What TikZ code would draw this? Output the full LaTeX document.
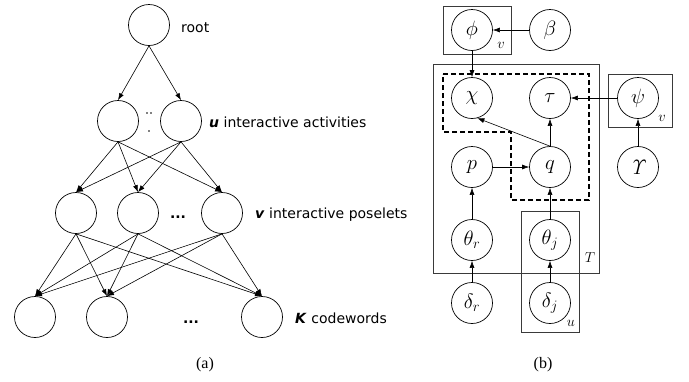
\documentclass[tikz,border=0pt]{standalone}
\usepackage{amsmath}
\usepackage[no-math]{fontspec}
\setmainfont{Liberation Serif}
\newfontfamily\labfont{DejaVu Sans}
\usetikzlibrary{arrows.meta, positioning}
\definecolor{inkOne}{HTML}{000000}
\definecolor{inkTwo}{HTML}{3A3A3A}
\tikzset{
  var/.style={circle, draw=inkOne, line width=0.7pt, minimum size=41pt, inner sep=0pt,
    font=\fontsize{20}{24}\selectfont},
  arr/.style={-{Latex[length=7pt, width=5pt]}, draw=inkOne, line width=0.6pt},
  plate/.style={draw=inkTwo, line width=0.7pt},
  lbl/.style={font=\labfont\fontsize{14}{16}\selectfont, inner sep=0pt, anchor=base west},
  note/.style={font=\fontsize{15}{17}\selectfont, inner sep=0pt},
  capt/.style={font=\fontsize{16}{18}\selectfont, inner sep=0pt, anchor=base},
}

\begin{document}
\begin{tikzpicture}[x=1pt, y=-1pt]
  \useasboundingbox (0,0) rectangle (689,381);
  % ---- (a) root -> activities -> poselets -> codewords
  \node[var] (root) at (149,25) {};
  \node[var] (ua) at (118,121) {};
  \node[var] (ub) at (181,121) {};
  \node[var] (va) at (76,213) {};
  \node[var] (vb) at (138,213) {};
  \node[var] (vc) at (222,213) {};
  \node[var] (ka) at (35,317) {};
  \node[var] (kb) at (107,317) {};
  \node[var] (kc) at (262,317) {};
  \foreach \t in {ua,ub} \draw[arr] (root.south) -- (\t.north);
  \foreach \s in {ua,ub} \foreach \t in {va,vb,vc} \draw[arr] (\s.south) -- (\t.north);
  \foreach \s in {va,vb,vc} \foreach \t in {ka,kb,kc} \draw[arr] (\s.south) -- (\t.north);
  \fill[inkOne] (147,113) circle (0.9) (151,113) circle (0.9) (149,131) circle (0.9);
  \node[lbl, anchor=base] (vdots) at (178,218) {\textbf{...}};
  \node[lbl, anchor=base] (kdots) at (191,323) {\textbf{...}};
  \node[lbl] (rootlab) at (181,32) {root};
  \node[lbl] (ulab) at (209,127) {\textbf{\textit{u}} interactive activities};
  \node[lbl] (vlab) at (255,218) {\textbf{\textit{v}} interactive poselets};
  \node[lbl] (klab) at (295,323) {\textbf{\textit{K}} codewords};
  \node[capt] (capa) at (205,368) {(a)};
  % ---- (b) plate model
  \node[var] (phi) at (472,30) {$\phi$};
  \node[var] (beta) at (550,30) {$\beta$};
  \node[var] (chi) at (472,98) {$\chi$};
  \node[var] (tau) at (550,98) {$\tau$};
  \node[var] (psi) at (638,98) {$\psi$};
  \node[var] (p) at (472,167) {$p$};
  \node[var] (q) at (550,167) {$q$};
  \node[var] (ups) at (638,167) {$\mathit{\Upsilon}$};
  \node[var] (thr) at (472,240) {$\theta_r$};
  \node[var] (thj) at (550,240) {$\theta_j$};
  \node[var] (der) at (472,303) {$\delta_r$};
  \node[var] (dej) at (550,303) {$\delta_j$};
  \draw[plate] (443,6) rectangle (511,54);
  \draw[plate] (433,64) rectangle (599,273);
  \draw[plate] (608,74) rectangle (672,127);
  \draw[plate] (521,211) rectangle (579,332);
  \node[note] (vphi) at (501,45) {$v$};
  \node[note] (vpsi) at (662,118) {$v$};
  \node[note] (tlab) at (590,258) {$T$};
  \node[note] (ulab2) at (571,323) {$u$};
  \draw[inkOne, line width=1.3pt, dash pattern=on 5pt off 3pt]
    (443,74) -- (589,74) -- (589,200) -- (511,200) -- (511,132) -- (443,132) -- cycle;
  \draw[arr] (beta) -- (phi);
  \draw[arr] (phi) -- (chi);
  \draw[arr] (psi) -- (tau);
  \draw[arr] (ups) -- (psi);
  \draw[arr] (q.north) -- (chi.-75);
  \draw[arr] (q) -- (tau);
  \draw[arr] (p) -- (q);
  \draw[arr] (thr) -- (p);
  \draw[arr] (thj) -- (q);
  \draw[arr] (der) -- (thr);
  \draw[arr] (dej) -- (thj);
  \node[capt] (capb) at (543,368) {(b)};
\end{tikzpicture}
\end{document}
